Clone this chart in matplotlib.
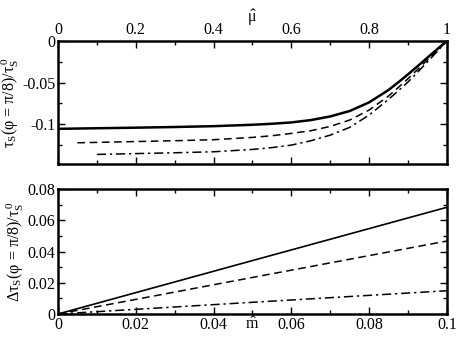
import matplotlib
matplotlib.use("Agg")
import matplotlib.pyplot as plt
from matplotlib.ticker import MultipleLocator, FuncFormatter

plt.rcParams["font.family"] = ["Liberation Serif", "DejaVu Serif"]
plt.rcParams["mathtext.fontset"] = "custom"
plt.rcParams["mathtext.rm"] = "Liberation Serif"
plt.rcParams["mathtext.it"] = "Liberation Serif"
plt.rcParams["axes.unicode_minus"] = False
plt.rcParams["font.size"] = 11.5

# ---- top panel: tau_S / tau_S^0 vs mu-hat ----
mu_solid = [0.0, 0.1, 0.2, 0.3, 0.4, 0.5, 0.55, 0.6, 0.65, 0.7, 0.75, 0.8, 0.85,
            0.875, 0.9, 0.925, 0.95, 0.975, 1.0]
tau_solid = [-0.1057, -0.1050, -0.1043, -0.1035, -0.1025, -0.1008, -0.0996, -0.0980,
             -0.0952, -0.0908, -0.0843, -0.0739, -0.0590, -0.0498, -0.0402, -0.0303,
             -0.0201, -0.0100, 0.0]
mu_dash = [0.05, 0.1, 0.2, 0.3, 0.4, 0.5, 0.55, 0.6, 0.65, 0.7, 0.75, 0.8, 0.85,
           0.875, 0.9, 0.925, 0.95, 0.975, 1.0]
tau_dash = [-0.1225, -0.1220, -0.1210, -0.1200, -0.1188, -0.1160, -0.1140, -0.1112,
            -0.1080, -0.1028, -0.0952, -0.0831, -0.0663, -0.0560, -0.0454, -0.0343,
            -0.0229, -0.0115, 0.0]
mu_dd = [0.1, 0.2, 0.3, 0.4, 0.5, 0.55, 0.6, 0.65, 0.7, 0.75, 0.8, 0.85,
         0.875, 0.9, 0.925, 0.95, 0.975, 1.0]
tau_dd = [-0.1365, -0.1355, -0.1345, -0.1333, -0.1305, -0.1283, -0.1253, -0.1201,
          -0.1133, -0.1040, -0.0892, -0.0703, -0.0600, -0.0494, -0.0375, -0.0253,
          -0.0127, 0.0]

# ---- bottom panel: delta tau_S / tau_S^0 vs m-hat ----
m_hat = [0.0, 0.05, 0.1]
dtau_solid = [0.0, 0.0342, 0.0683]
dtau_dash = [0.0, 0.0234, 0.0467]
dtau_dd = [0.0, 0.0075, 0.0149]

fig = plt.figure(figsize=(4.58, 3.43), dpi=100)
ax1 = fig.add_axes([0.1266, 0.5219, 0.849, 0.3586])
ax2 = fig.add_axes([0.1266, 0.0845, 0.849, 0.3644])

ax1.plot(mu_solid, tau_solid, "-", color="black", lw=1.8)
ax1.plot(mu_dash, tau_dash, color="black", lw=1.1, dashes=(5, 3))
ax1.plot(mu_dd, tau_dd, color="black", lw=1.1, dashes=(6, 2.5, 1.5, 2.5))
ax1.set_xlim(0, 1)
ax1.set_ylim(-0.148, 0)
ax1.xaxis.set_major_locator(MultipleLocator(0.2))
ax1.xaxis.set_minor_locator(MultipleLocator(0.1))
ax1.yaxis.set_major_locator(MultipleLocator(0.05))
ax1.yaxis.set_minor_locator(MultipleLocator(0.025))
ax1.xaxis.set_major_formatter(FuncFormatter(lambda v, p: "%g" % round(v, 3)))
ax1.yaxis.set_major_formatter(FuncFormatter(lambda v, p: "%g" % round(v, 3)))
ax1.tick_params(axis="x", labeltop=True, labelbottom=False)
ax1.xaxis.set_label_position("top")
ax1.set_xlabel(r"$\hat{\mu}$", labelpad=0)
ax1.set_ylabel(r"τ$_\mathrm{S}$(φ = π/8)/τ$_\mathrm{S}^{\,\mathrm{0}}$", labelpad=1)

ax2.plot(m_hat, dtau_solid, "-", color="black", lw=1.2)
ax2.plot(m_hat, dtau_dash, color="black", lw=1.1, dashes=(5, 3))
ax2.plot(m_hat, dtau_dd, color="black", lw=1.1, dashes=(6, 2.5, 1.5, 2.5))
ax2.set_xlim(0, 0.1)
ax2.set_ylim(0, 0.08)
ax2.xaxis.set_major_locator(MultipleLocator(0.02))
ax2.xaxis.set_minor_locator(MultipleLocator(0.01))
ax2.yaxis.set_major_locator(MultipleLocator(0.02))
ax2.yaxis.set_minor_locator(MultipleLocator(0.01))
ax2.xaxis.set_major_formatter(FuncFormatter(lambda v, p: "%g" % round(v, 3)))
ax2.yaxis.set_major_formatter(FuncFormatter(lambda v, p: "%g" % round(v, 3)))
ax2.set_xlabel(r"$\hat{m}$", labelpad=-12)
ax2.set_ylabel(r"Δτ$_\mathrm{S}$(φ = π/8)/τ$_\mathrm{S}^{\,\mathrm{0}}$", labelpad=1)

for ax in (ax1, ax2):
    for s in ax.spines.values():
        s.set_linewidth(1.8)
    ax.tick_params(which="both", direction="in", top=True, right=True,
                   labelsize=11.5, pad=2)
    ax.tick_params(which="major", length=5, width=1)
    ax.tick_params(which="minor", length=3, width=1)

fig.savefig("out.png", dpi=100)
